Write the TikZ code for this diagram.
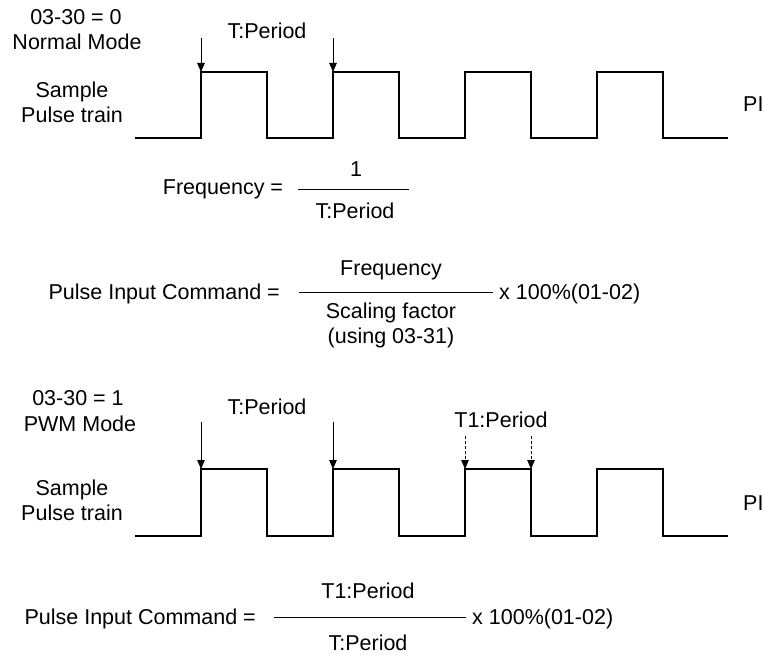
\documentclass[tikz,border=0pt]{standalone}
\usepackage{fontspec}
\setmainfont{Liberation Sans}
\usetikzlibrary{arrows.meta}
\begin{document}
\begin{tikzpicture}[x=1pt,y=-1pt,
  txt/.style={inner sep=0pt, font=\fontsize{21.5}{25}\selectfont, anchor=base},
  wave/.style={line width=1.1pt, line join=miter},
  fracline/.style={line width=0.9pt},
  ptr/.style={line width=0.9pt, -{Triangle[length=9pt,width=7.5pt]}},
  dptr/.style={ptr, dash pattern=on 3pt off 2pt}]
\useasboundingbox[fill=white] (0,0) rectangle (764,658);

% ---------- Normal mode ----------
\node[txt] (m0a) at (76,25) {03-30 = 0};
\node[txt] (m0b) at (77,50) {Normal Mode};
\node[txt] (s0a) at (72,98) {Sample};
\node[txt] (s0b) at (72,123) {Pulse train};
\node[txt] (tp0) at (267,39) {T:Period};
\node[txt, anchor=base west] (pi0) at (743,112) {PI};

\draw[wave] (135,138) -- (201,138) -- (201,72) -- (267,72) -- (267,138)
  -- (333,138) -- (333,72) -- (399,72) -- (399,138)
  -- (465,138) -- (465,72) -- (531,72) -- (531,138)
  -- (597,138) -- (597,72) -- (663,72) -- (663,138) -- (728,138);

\coordinate (a1s) at (201,38); \coordinate (a1e) at (201,72);
\coordinate (a2s) at (333,38); \coordinate (a2e) at (333,72);
\draw[ptr] (a1s) -- (a1e);
\draw[ptr] (a2s) -- (a2e);

% Frequency = 1 / T
\node[txt] (freq) at (223,195) {Frequency =};
\coordinate (f1) at (298,189); \coordinate (f2) at (409,189);
\draw[fracline] (f1) -- (f2);
\node[txt] (one) at (356,177) {1};
\node[txt] (tpf) at (355,219) {T:Period};

% Pulse input command (normal)
\node[txt, anchor=base east] (pic1) at (280,299) {Pulse Input Command =};
\coordinate (g1) at (299,292); \coordinate (g2) at (493,292);
\draw[fracline] (g1) -- (g2);
\node[txt] (fq) at (391,276) {Frequency};
\node[txt] (sf) at (391,318) {Scaling factor};
\node[txt] (us) at (391,343) {(using 03-31)};
\node[txt, anchor=base west] (x1) at (499,299) {x 100\%(01-02)};

% ---------- PWM mode ----------
\node[txt] (m1a) at (78,405) {03-30 = 1};
\node[txt] (m1b) at (80,431) {PWM Mode};
\node[txt] (s1a) at (72,495) {Sample};
\node[txt] (s1b) at (72,520) {Pulse train};
\node[txt] (tp1) at (267,414) {T:Period};
\node[txt] (t1p) at (501,427) {T1:Period};
\node[txt, anchor=base west] (pi1) at (743,510) {PI};

\draw[wave] (135,536) -- (201,536) -- (201,469) -- (267,469) -- (267,536)
  -- (333,536) -- (333,469) -- (399,469) -- (399,536)
  -- (465,536) -- (465,469) -- (531,469) -- (531,536)
  -- (597,536) -- (597,469) -- (663,469) -- (663,536) -- (728,536);

\coordinate (b1s) at (201,422); \coordinate (b1e) at (201,469);
\coordinate (b2s) at (333,422); \coordinate (b2e) at (333,469);
\coordinate (b3s) at (465,436); \coordinate (b3e) at (465,469);
\coordinate (b4s) at (531,436); \coordinate (b4e) at (531,469);
\draw[ptr] (b1s) -- (b1e);
\draw[ptr] (b2s) -- (b2e);
\draw[dptr] (b3s) -- (b3e);
\draw[dptr] (b4s) -- (b4e);

% Pulse input command (PWM)
\node[txt, anchor=base east] (pic2) at (256,624) {Pulse Input Command =};
\coordinate (h1) at (274,617); \coordinate (h2) at (466,617);
\draw[fracline] (h1) -- (h2);
\node[txt] (t1n) at (368,598) {T1:Period};
\node[txt] (tdn) at (368,650) {T:Period};
\node[txt, anchor=base west] (x2) at (472,624) {x 100\%(01-02)};
\end{tikzpicture}
\end{document}
